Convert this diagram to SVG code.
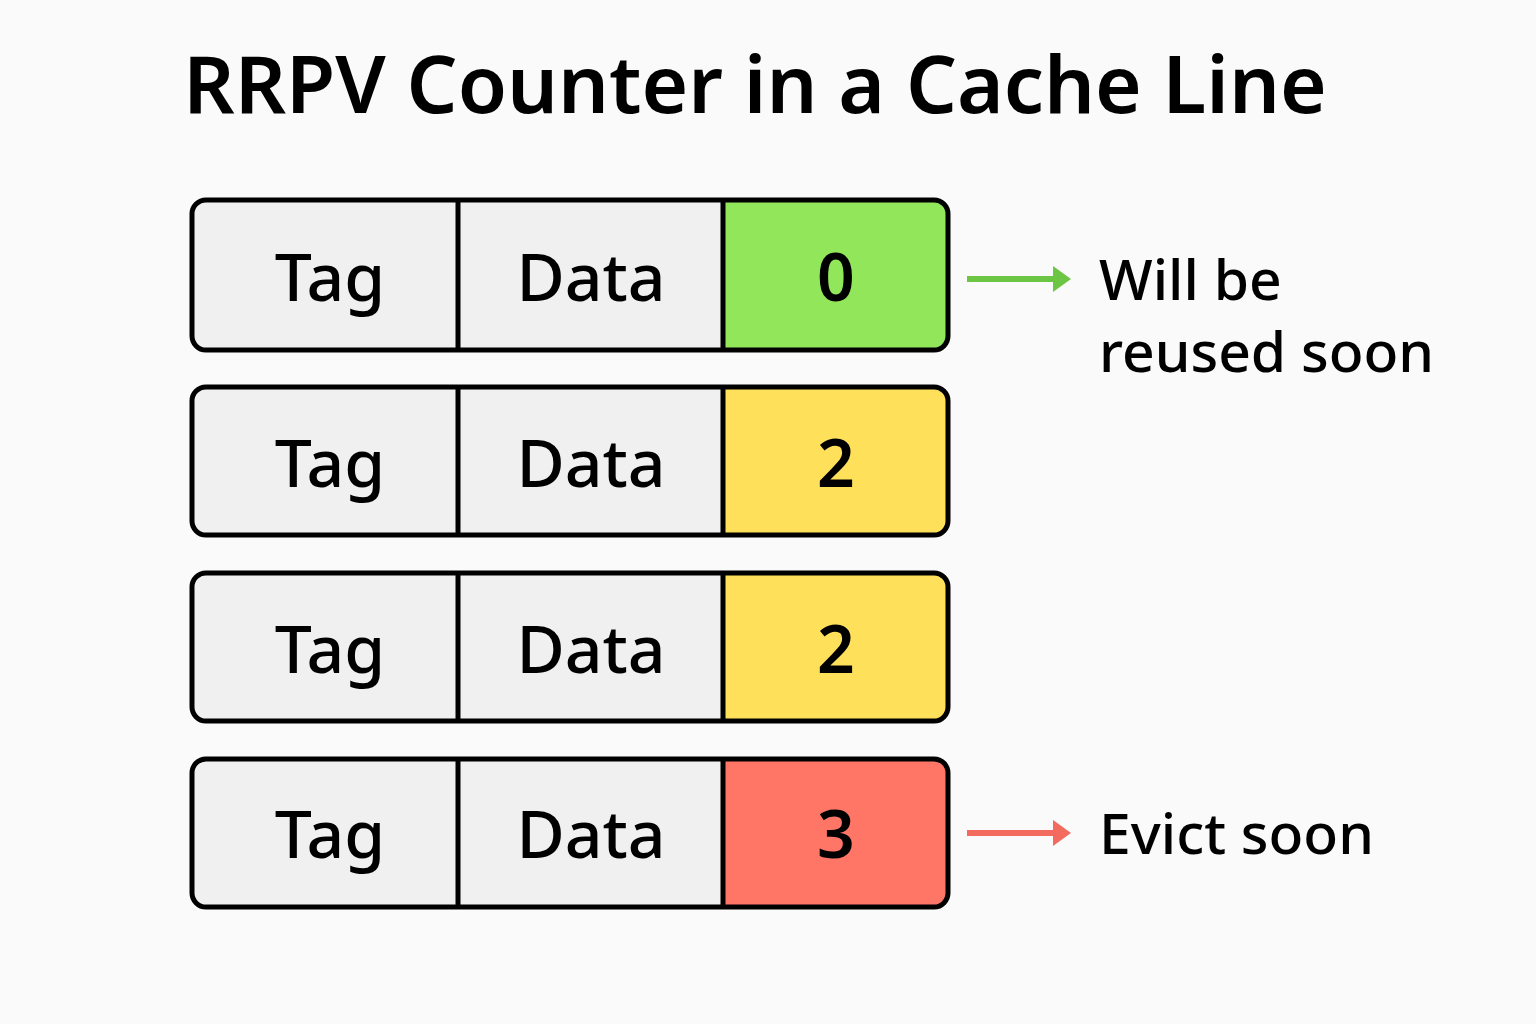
<svg xmlns="http://www.w3.org/2000/svg" width="1536" height="1024" viewBox="0 0 1536 1024">
<defs>
<style>
.cell{fill:#f0f0f0}
.frame{fill:none;stroke:#000;stroke-width:5}
.div{stroke:#000;stroke-width:5}
.t{font-family:"Noto Sans","Open Sans","Liberation Sans",sans-serif;font-weight:500;fill:#000;text-anchor:middle;font-size:66px}
.n{font-weight:600}
.lbl{font-family:"Noto Sans","Open Sans","Liberation Sans",sans-serif;font-weight:500;fill:#000;font-size:57px}
</style>
</defs>
<rect width="1536" height="1024" fill="#fafafa"/>
<text x="755" y="113" text-anchor="middle" font-family="Noto Sans,Open Sans,Liberation Sans,sans-serif" font-weight="600" font-size="80" fill="#000">RRPV Counter in a Cache Line</text>

<g id="line0">
<rect x="192" y="200" width="756" height="150" rx="14" class="cell"/>
<path d="M723 200 H934 a14 14 0 0 1 14 14 V336 a14 14 0 0 1 -14 14 H723 Z" fill="#92e65a"/>
<rect x="192" y="200" width="756" height="150" rx="14" class="frame"/>
<line x1="458" y1="200" x2="458" y2="350" class="div"/>
<line x1="723" y1="200" x2="723" y2="350" class="div"/>
<text x="330" y="301" class="t">Tag</text>
<text x="591" y="301" class="t">Data</text>
<text x="836" y="301" class="t n">0</text>
</g>

<g id="line1">
<rect x="192" y="387" width="756" height="148" rx="14" class="cell"/>
<path d="M723 387 H934 a14 14 0 0 1 14 14 V521 a14 14 0 0 1 -14 14 H723 Z" fill="#ffe05a"/>
<rect x="192" y="387" width="756" height="148" rx="14" class="frame"/>
<line x1="458" y1="387" x2="458" y2="535" class="div"/>
<line x1="723" y1="387" x2="723" y2="535" class="div"/>
<text x="330" y="487" class="t">Tag</text>
<text x="591" y="487" class="t">Data</text>
<text x="836" y="487" class="t n">2</text>
</g>

<g id="line2">
<rect x="192" y="573" width="756" height="148" rx="14" class="cell"/>
<path d="M723 573 H934 a14 14 0 0 1 14 14 V707 a14 14 0 0 1 -14 14 H723 Z" fill="#ffe05a"/>
<rect x="192" y="573" width="756" height="148" rx="14" class="frame"/>
<line x1="458" y1="573" x2="458" y2="721" class="div"/>
<line x1="723" y1="573" x2="723" y2="721" class="div"/>
<text x="330" y="673" class="t">Tag</text>
<text x="591" y="673" class="t">Data</text>
<text x="836" y="673" class="t n">2</text>
</g>

<g id="line3">
<rect x="192" y="759" width="756" height="148" rx="14" class="cell"/>
<path d="M723 759 H934 a14 14 0 0 1 14 14 V893 a14 14 0 0 1 -14 14 H723 Z" fill="#ff7566"/>
<rect x="192" y="759" width="756" height="148" rx="14" class="frame"/>
<line x1="458" y1="759" x2="458" y2="907" class="div"/>
<line x1="723" y1="759" x2="723" y2="907" class="div"/>
<text x="330" y="858" class="t">Tag</text>
<text x="591" y="858" class="t">Data</text>
<text x="836" y="858" class="t n">3</text>
</g>

<g id="connectors">
<path d="M967 276 H1053 V266 L1071 279 L1053 292 V282 H967 Z" fill="#6cc644"/>
<path d="M967 830 H1053 V820 L1071 833 L1053 846 V836 H967 Z" fill="#f26b5e"/>
</g>

<g id="label-reuse">
<text x="1099" y="300" class="lbl">Will be</text>
<text x="1099" y="372" class="lbl">reused soon</text>
</g>
<g id="label-evict">
<text x="1099" y="854" class="lbl">Evict soon</text>
</g>
</svg>
